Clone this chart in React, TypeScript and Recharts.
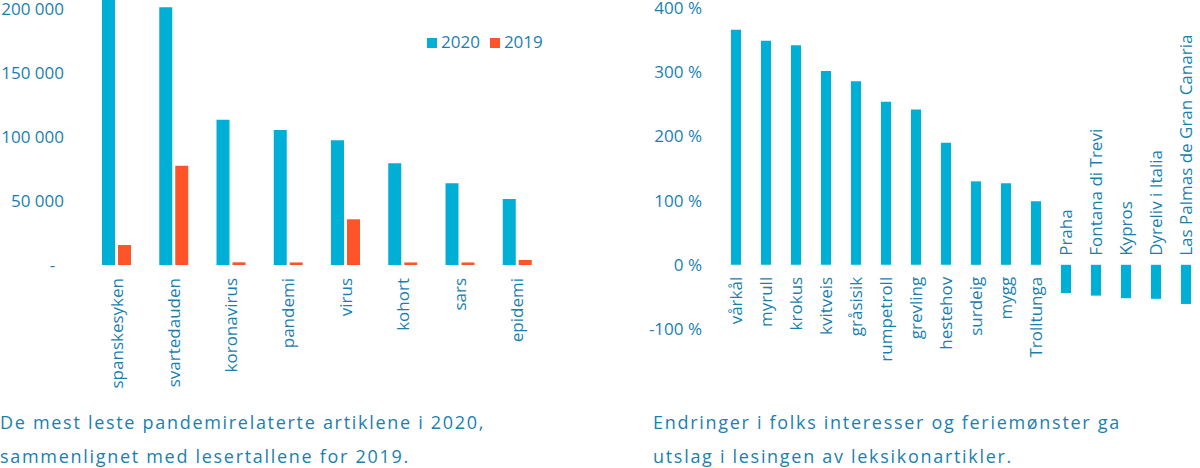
import React from 'react';
import { BarChart, Bar, XAxis, YAxis, Legend, LabelList } from 'recharts';

const BLUE = '#00afd6';
const ORANGE = '#ff5429';
const TEXT = '#1b7fae';

const topics = ['spanskesyken', 'svartedauden', 'koronavirus', 'pandemi', 'virus', 'kohort', 'sars', 'epidemi'];
const reads2020 = [215000, 201300, 113500, 105400, 97400, 79400, 63800, 51500];
const reads2019 = [15600, 77600, 2100, 2000, 35700, 2000, 2000, 3900];
const readTicks = [0, 50000, 100000, 150000, 200000];

const words = [
  'vårkål', 'myrull', 'krokus', 'kvitveis', 'gråsisik', 'rumpetroll', 'grevling', 'hestehov',
  'surdeig', 'mygg', 'Trolltunga', 'Praha', 'Fontana di Trevi', 'Kypros', 'Dyreliv i Italia',
  'Las Palmas de Gran Canaria',
];
const changePct = [366, 349, 342, 302, 286, 254, 242, 190, 130, 127, 99, -44, -48, -52, -53, -61];
const pctTicks = [-100, 0, 100, 200, 300, 400];

const leftData = topics.map((name, i) => ({ name, y2020: reads2020[i], y2019: reads2019[i] }));
const rightData = words.map((name, i) => ({ name, change: changePct[i] }));
const legendOrder = ['2020', '2019'];

function fmtReads(v: number) {
  if (v === 0) return '-\u00a0\u00a0';
  return String(v).replace(/\B(?=(\d{3})+(?!\d))/g, ' ');
}

const tickFont = { fontSize: 17, fill: TEXT, fontFamily: 'Open Sans' };

function RotatedTick(props: any) {
  const { x, y, payload } = props;
  return (
    <g transform={`translate(${x},${y})`}>
      <text transform="rotate(-90)" textAnchor="end" dy="0.35em" {...tickFont}>
        {payload.value}
      </text>
    </g>
  );
}

function WordLabel(props: any) {
  const vb = props.viewBox || props;
  const { x, y, width, height } = vb;
  const v = changePct[props.index];
  const cx = x + width / 2;
  const base = v >= 0 ? Math.max(y, y + height) : Math.min(y, y + height);
  const ty = v >= 0 ? base + 12 : base - 9;
  return (
    <g transform={`translate(${cx},${ty})`}>
      <text transform="rotate(-90)" textAnchor={v >= 0 ? 'end' : 'start'} dy="0.35em" {...tickFont}>
        {props.value}
      </text>
    </g>
  );
}

const captionStyle: React.CSSProperties = {
  position: 'absolute',
  fontFamily: 'Open Sans',
  fontSize: 18,
  lineHeight: '34px',
  letterSpacing: 1.7,
  color: TEXT,
  whiteSpace: 'nowrap',
};

export default function App() {
  return (
    <div style={{ position: 'absolute', left: 0, top: 0, width: 1200, height: 468, overflow: 'hidden', background: '#fff', fontFamily: 'Open Sans' }}>
      <div style={{ position: 'absolute', left: 0, top: 0 }}>
        <BarChart width={560} height={400} data={leftData} margin={{ top: 0, right: 14, left: 0, bottom: 0 }} barSize={13} barGap={3}>
          <XAxis dataKey="name" height={135} axisLine={false} tickLine={false} tickSize={0} tickMargin={13} interval={0} padding={{ left: 16, right: 0 }} tick={<RotatedTick />} />
          <YAxis width={72} domain={[0, 207000]} allowDataOverflow ticks={readTicks} tickFormatter={fmtReads} axisLine={false} tickLine={false} tick={tickFont} interval={0} />
          <Legend
            layout="horizontal"
            verticalAlign="middle"
            align="center"
            iconType="square"
            iconSize={10}
            itemSorter={(item: any) => legendOrder.indexOf(String(item.value))}
            wrapperStyle={{ top: 30, left: 427, width: 'auto', fontSize: 17 }}
            formatter={(value) => <span style={{ color: TEXT }}>{value}</span>}
          />
          <Bar dataKey="y2020" name="2020" fill={BLUE} isAnimationActive={false} />
          <Bar dataKey="y2019" name="2019" fill={ORANGE} isAnimationActive={false} />
        </BarChart>
      </div>
      <div style={{ position: 'absolute', left: 630, top: 0 }}>
        <BarChart width={575} height={400} data={rightData} margin={{ top: 8, right: 4, left: 0, bottom: 71 }} barSize={10}>
          <XAxis dataKey="name" hide padding={{ left: 11, right: 0 }} />
          <YAxis width={80} domain={[-100, 400]} ticks={pctTicks} tickFormatter={(v) => `${v} %`} axisLine={false} tickLine={false} tick={tickFont} interval={0} />
          <Bar dataKey="change" fill={BLUE} isAnimationActive={false}>
            <LabelList dataKey="name" content={<WordLabel />} />
          </Bar>
        </BarChart>
      </div>
      <div style={{ ...captionStyle, left: 0, top: 405 }}>
        De mest leste pandemirelaterte artiklene i 2020,
        <br />
        sammenlignet med lesertallene for 2019.
      </div>
      <div style={{ ...captionStyle, left: 653, top: 405 }}>
        Endringer i folks interesser og feriemønster ga
        <br />
        utslag i lesingen av leksikonartikler.
      </div>
    </div>
  );
}
